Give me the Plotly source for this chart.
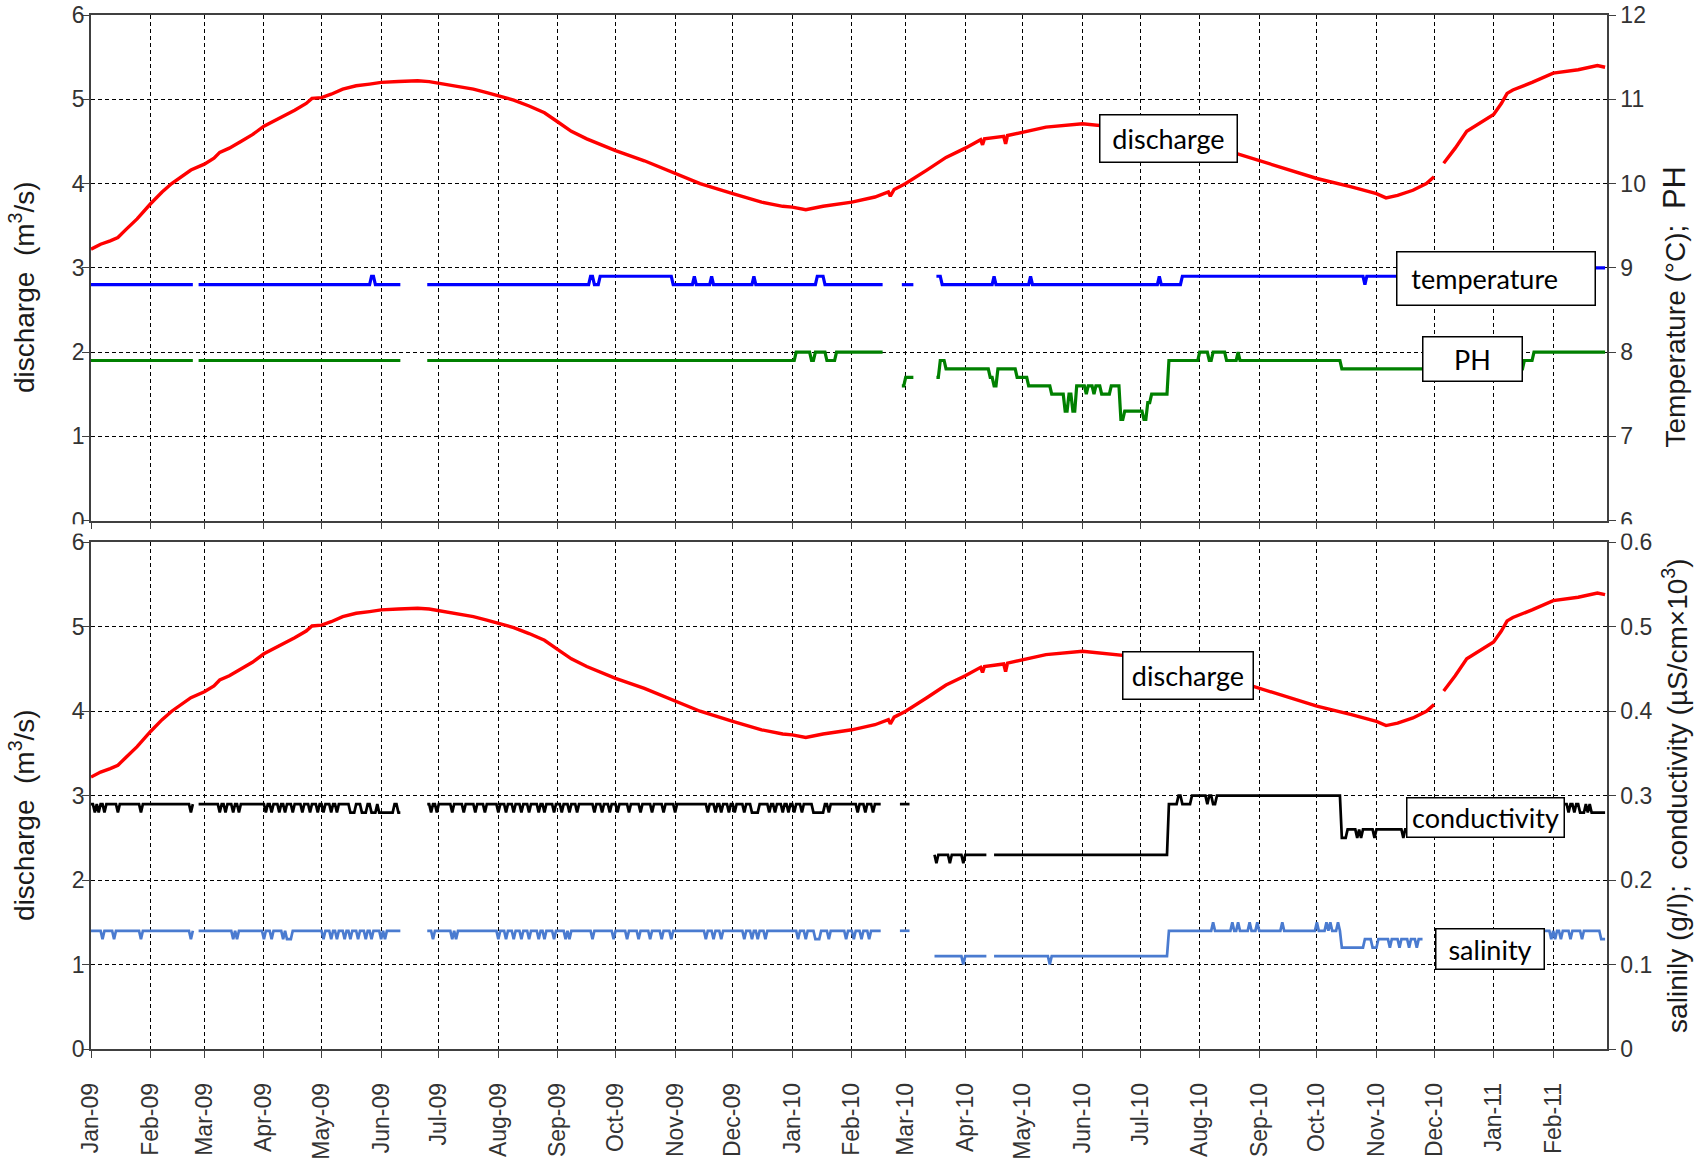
import plotly.graph_objects as go
from datetime import date, timedelta

AXIS_FONT = "Liberation Sans, Arial, sans-serif"
LABEL_FONT = "Lato, Carlito, Calibri, sans-serif"

# Daily discharge (m3/s), sampled readings; None marks the logger outage
discharge = [
    ("2009-01-01", 3.22), ("2009-01-06", 3.28), ("2009-01-11", 3.32), ("2009-01-15", 3.36),
    ("2009-01-19", 3.45), ("2009-01-25", 3.58), ("2009-02-01", 3.76), ("2009-02-07", 3.90),
    ("2009-02-12", 4.00), ("2009-02-17", 4.08), ("2009-02-22", 4.16), ("2009-03-01", 4.23),
    ("2009-03-06", 4.30), ("2009-03-09", 4.37), ("2009-03-14", 4.42), ("2009-03-20", 4.50),
    ("2009-03-26", 4.58), ("2009-04-01", 4.68), ("2009-04-07", 4.75), ("2009-04-11", 4.80),
    ("2009-04-17", 4.87), ("2009-04-23", 4.95), ("2009-04-26", 5.01), ("2009-05-01", 5.02),
    ("2009-05-06", 5.06), ("2009-05-12", 5.12), ("2009-05-19", 5.16), ("2009-05-26", 5.18),
    ("2009-06-01", 5.20), ("2009-06-10", 5.21), ("2009-06-20", 5.22), ("2009-06-26", 5.21),
    ("2009-07-01", 5.19), ("2009-07-10", 5.15), ("2009-07-19", 5.12), ("2009-07-26", 5.08),
    ("2009-08-01", 5.04), ("2009-08-09", 4.99), ("2009-08-17", 4.92), ("2009-08-25", 4.84),
    ("2009-09-01", 4.73), ("2009-09-08", 4.62), ("2009-09-16", 4.53), ("2009-09-23", 4.46),
    ("2009-10-01", 4.39), ("2009-10-16", 4.27), ("2009-11-01", 4.12), ("2009-11-14", 4.00),
    ("2009-12-01", 3.88), ("2009-12-16", 3.78), ("2009-12-27", 3.73), ("2010-01-01", 3.72),
    ("2010-01-08", 3.69), ("2010-01-17", 3.73), ("2010-02-01", 3.78), ("2010-02-13", 3.84),
    ("2010-02-20", 3.90), ("2010-02-21", 3.85), ("2010-02-23", 3.93), ("2010-03-01", 4.00),
    ("2010-03-12", 4.16), ("2010-03-22", 4.31), ("2010-04-01", 4.42), ("2010-04-09", 4.52),
    ("2010-04-10", 4.46), ("2010-04-11", 4.53), ("2010-04-21", 4.56), ("2010-04-22", 4.47),
    ("2010-04-23", 4.57), ("2010-05-01", 4.61), ("2010-05-13", 4.67), ("2010-06-01", 4.71),
    ("2010-06-10", 4.69), ("2010-06-21", 4.67), ("2010-07-01", 4.64), ("2010-07-15", 4.58),
    ("2010-08-01", 4.49), ("2010-08-14", 4.40), ("2010-08-21", 4.35), ("2010-09-01", 4.27),
    ("2010-09-13", 4.18), ("2010-10-01", 4.06), ("2010-10-19", 3.96), ("2010-11-01", 3.88),
    ("2010-11-06", 3.83), ("2010-11-12", 3.86), ("2010-11-20", 3.92), ("2010-11-27", 4.00),
    ("2010-12-01", 4.08), ("2010-12-02", None), ("2010-12-06", 4.24), ("2010-12-12", 4.42),
    ("2010-12-18", 4.62), ("2010-12-26", 4.73), ("2011-01-01", 4.82), ("2011-01-05", 4.95),
    ("2011-01-08", 5.07), ("2011-01-11", 5.11), ("2011-01-21", 5.20), ("2011-02-01", 5.31),
    ("2011-02-14", 5.35), ("2011-02-24", 5.40), ("2011-02-28", 5.38),
]

# Logged readings as (date from which the value holds, value); None = no data
temperature = [
    ("2009-01-01", 8.8), ("2009-02-24", None), ("2009-02-26", 8.8), ("2009-05-27", 8.9),
    ("2009-05-29", 8.8), ("2009-06-12", None), ("2009-06-25", 8.8), ("2009-09-18", 8.9),
    ("2009-09-20", 8.8), ("2009-09-23", 8.9), ("2009-10-31", 8.8), ("2009-11-11", 8.9),
    ("2009-11-12", 8.8), ("2009-11-20", 8.9), ("2009-11-21", 8.8), ("2009-12-12", 8.9),
    ("2009-12-13", 8.8), ("2010-01-14", 8.9), ("2010-01-18", 8.8), ("2010-02-18", None),
    ("2010-02-27", 8.8), ("2010-03-06", None), ("2010-03-17", 8.9), ("2010-03-20", 8.8),
    ("2010-04-16", 8.9), ("2010-04-17", 8.8), ("2010-05-05", 8.9), ("2010-05-06", 8.8),
    ("2010-07-11", 8.9), ("2010-07-12", 8.8), ("2010-07-23", 8.9), ("2010-10-26", 8.8),
    ("2010-10-27", 8.9), ("2011-01-31", 9.0), ("2011-02-28", 9.0),
]

ph = [
    ("2009-01-01", 7.9), ("2009-02-24", None), ("2009-02-26", 7.9), ("2009-06-12", None),
    ("2009-06-25", 7.9), ("2010-01-03", 8.0), ("2010-01-11", 7.9), ("2010-01-13", 8.0),
    ("2010-01-19", 7.9), ("2010-01-24", 8.0), ("2010-02-18", None), ("2010-02-27", 7.6),
    ("2010-03-01", 7.7), ("2010-03-06", None), ("2010-03-17", 7.7), ("2010-03-19", 7.9),
    ("2010-03-22", 7.8), ("2010-04-14", 7.7), ("2010-04-16", 7.6), ("2010-04-18", 7.8),
    ("2010-04-28", 7.7), ("2010-05-04", 7.6), ("2010-05-16", 7.5), ("2010-05-23", 7.3),
    ("2010-05-25", 7.5), ("2010-05-27", 7.3), ("2010-05-29", 7.6), ("2010-06-03", 7.5),
    ("2010-06-04", 7.6), ("2010-06-07", 7.5), ("2010-06-08", 7.6), ("2010-06-11", 7.5),
    ("2010-06-16", 7.6), ("2010-06-21", 7.2), ("2010-06-23", 7.3), ("2010-07-03", 7.2),
    ("2010-07-05", 7.4), ("2010-07-07", 7.5), ("2010-07-16", 7.9), ("2010-08-01", 8.0),
    ("2010-08-06", 7.9), ("2010-08-08", 8.0), ("2010-08-15", 7.9), ("2010-08-21", 8.0),
    ("2010-08-22", 7.9), ("2010-10-14", 7.8), ("2011-01-17", 7.9), ("2011-01-22", 8.0),
    ("2011-02-28", 8.0),
]

conductivity = [
    ("2009-01-01", 0.29), ("2009-01-03", 0.28), ("2009-01-04", 0.29), ("2009-01-05", 0.28),
    ("2009-01-06", 0.29), ("2009-01-08", 0.28), ("2009-01-09", 0.29), ("2009-01-15", 0.28),
    ("2009-01-16", 0.29), ("2009-01-27", 0.28), ("2009-01-28", 0.29), ("2009-02-22", 0.28),
    ("2009-02-23", 0.29), ("2009-02-24", None), ("2009-02-26", 0.29), ("2009-03-09", 0.28),
    ("2009-03-10", 0.29), ("2009-03-12", 0.28), ("2009-03-13", 0.29), ("2009-03-16", 0.28),
    ("2009-03-17", 0.29), ("2009-03-19", 0.28), ("2009-03-20", 0.29), ("2009-04-02", 0.28),
    ("2009-04-03", 0.29), ("2009-04-05", 0.28), ("2009-04-06", 0.29), ("2009-04-09", 0.28),
    ("2009-04-10", 0.29), ("2009-04-12", 0.28), ("2009-04-13", 0.29), ("2009-04-16", 0.28),
    ("2009-04-17", 0.29), ("2009-04-21", 0.28), ("2009-04-22", 0.29), ("2009-04-25", 0.28),
    ("2009-04-26", 0.29), ("2009-04-29", 0.28), ("2009-04-30", 0.29), ("2009-05-02", 0.28),
    ("2009-05-03", 0.29), ("2009-05-06", 0.28), ("2009-05-07", 0.29), ("2009-05-09", 0.28),
    ("2009-05-10", 0.29), ("2009-05-16", 0.28), ("2009-05-19", 0.29), ("2009-05-22", 0.28),
    ("2009-05-25", 0.29), ("2009-05-27", 0.28), ("2009-05-30", 0.29), ("2009-05-31", 0.28),
    ("2009-06-08", 0.29), ("2009-06-10", 0.28), ("2009-06-12", None), ("2009-06-25", 0.29),
    ("2009-06-27", 0.28), ("2009-06-28", 0.29), ("2009-06-30", 0.28), ("2009-07-01", 0.29),
    ("2009-07-08", 0.28), ("2009-07-09", 0.29), ("2009-07-14", 0.28), ("2009-07-15", 0.29),
    ("2009-07-20", 0.28), ("2009-07-21", 0.29), ("2009-07-25", 0.28), ("2009-07-26", 0.29),
    ("2009-08-01", 0.28), ("2009-08-02", 0.29), ("2009-08-05", 0.28), ("2009-08-06", 0.29),
    ("2009-08-09", 0.28), ("2009-08-10", 0.29), ("2009-08-13", 0.28), ("2009-08-14", 0.29),
    ("2009-08-17", 0.28), ("2009-08-18", 0.29), ("2009-08-22", 0.28), ("2009-08-23", 0.29),
    ("2009-08-25", 0.28), ("2009-08-26", 0.29), ("2009-08-30", 0.28), ("2009-08-31", 0.29),
    ("2009-09-03", 0.28), ("2009-09-04", 0.29), ("2009-09-07", 0.28), ("2009-09-08", 0.29),
    ("2009-09-11", 0.28), ("2009-09-12", 0.29), ("2009-09-20", 0.28), ("2009-09-21", 0.29),
    ("2009-09-24", 0.28), ("2009-09-25", 0.29), ("2009-09-28", 0.28), ("2009-09-29", 0.29),
    ("2009-10-02", 0.28), ("2009-10-03", 0.29), ("2009-10-08", 0.28), ("2009-10-09", 0.29),
    ("2009-10-14", 0.28), ("2009-10-15", 0.29), ("2009-10-20", 0.28), ("2009-10-21", 0.29),
    ("2009-10-26", 0.28), ("2009-10-27", 0.29), ("2009-11-01", 0.28), ("2009-11-02", 0.29),
    ("2009-11-18", 0.28), ("2009-11-19", 0.29), ("2009-11-22", 0.28), ("2009-11-23", 0.29),
    ("2009-11-25", 0.28), ("2009-11-26", 0.29), ("2009-11-29", 0.28), ("2009-11-30", 0.29),
    ("2009-12-02", 0.28), ("2009-12-03", 0.29), ("2009-12-07", 0.28), ("2009-12-08", 0.29),
    ("2009-12-11", 0.28), ("2009-12-15", 0.29), ("2009-12-20", 0.28), ("2009-12-21", 0.29),
    ("2009-12-23", 0.28), ("2009-12-24", 0.29), ("2009-12-27", 0.28), ("2009-12-28", 0.29),
    ("2009-12-30", 0.28), ("2009-12-31", 0.29), ("2010-01-02", 0.28), ("2010-01-03", 0.29),
    ("2010-01-06", 0.28), ("2010-01-07", 0.29), ("2010-01-12", 0.28), ("2010-01-18", 0.29),
    ("2010-01-20", 0.28), ("2010-01-21", 0.29), ("2010-02-04", 0.28), ("2010-02-05", 0.29),
    ("2010-02-08", 0.28), ("2010-02-09", 0.29), ("2010-02-12", 0.28), ("2010-02-13", 0.29),
    ("2010-02-17", None), ("2010-02-26", 0.29), ("2010-03-04", None), ("2010-03-16", 0.23),
    ("2010-03-17", 0.22), ("2010-03-18", 0.23), ("2010-03-24", 0.22), ("2010-03-25", 0.23),
    ("2010-03-31", 0.22), ("2010-04-01", 0.23), ("2010-04-13", None), ("2010-04-16", 0.23),
    ("2010-07-16", 0.29), ("2010-07-21", 0.30), ("2010-07-23", 0.29), ("2010-07-28", 0.30),
    ("2010-08-05", 0.29), ("2010-08-06", 0.30), ("2010-08-08", 0.29), ("2010-08-10", 0.30),
    ("2010-10-14", 0.25), ("2010-10-17", 0.26), ("2010-10-22", 0.25), ("2010-10-23", 0.26),
    ("2010-10-24", 0.25), ("2010-10-25", 0.26), ("2010-10-31", 0.25), ("2010-11-01", 0.26),
    ("2010-11-15", 0.25), ("2010-11-16", 0.26), ("2010-11-25", None), ("2010-12-06", 0.29),
    ("2011-02-09", 0.28), ("2011-02-10", 0.29), ("2011-02-12", 0.28), ("2011-02-13", 0.29),
    ("2011-02-15", 0.28), ("2011-02-18", 0.29), ("2011-02-19", 0.28), ("2011-02-20", 0.29),
    ("2011-02-21", 0.28), ("2011-02-28", 0.28),
]

salinity = [
    ("2009-01-01", 0.14), ("2009-01-07", 0.13), ("2009-01-08", 0.14), ("2009-01-13", 0.13),
    ("2009-01-14", 0.14), ("2009-01-27", 0.13), ("2009-01-28", 0.14), ("2009-02-22", 0.13),
    ("2009-02-23", 0.14), ("2009-02-24", None), ("2009-02-26", 0.14), ("2009-03-16", 0.13),
    ("2009-03-17", 0.14), ("2009-03-18", 0.13), ("2009-03-19", 0.14), ("2009-04-01", 0.13),
    ("2009-04-02", 0.14), ("2009-04-05", 0.13), ("2009-04-06", 0.14), ("2009-04-11", 0.13),
    ("2009-04-12", 0.14), ("2009-04-13", 0.13), ("2009-04-16", 0.14), ("2009-05-02", 0.13),
    ("2009-05-03", 0.14), ("2009-05-06", 0.13), ("2009-05-07", 0.14), ("2009-05-09", 0.13),
    ("2009-05-10", 0.14), ("2009-05-13", 0.13), ("2009-05-14", 0.14), ("2009-05-16", 0.13),
    ("2009-05-17", 0.14), ("2009-05-20", 0.13), ("2009-05-21", 0.14), ("2009-05-24", 0.13),
    ("2009-05-25", 0.14), ("2009-05-27", 0.13), ("2009-05-28", 0.14), ("2009-06-01", 0.13),
    ("2009-06-02", 0.14), ("2009-06-03", 0.13), ("2009-06-04", 0.14), ("2009-06-12", None),
    ("2009-06-25", 0.14), ("2009-06-28", 0.13), ("2009-06-29", 0.14), ("2009-07-08", 0.13),
    ("2009-07-09", 0.14), ("2009-07-10", 0.13), ("2009-07-11", 0.14), ("2009-08-01", 0.13),
    ("2009-08-02", 0.14), ("2009-08-05", 0.13), ("2009-08-06", 0.14), ("2009-08-09", 0.13),
    ("2009-08-10", 0.14), ("2009-08-13", 0.13), ("2009-08-14", 0.14), ("2009-08-17", 0.13),
    ("2009-08-18", 0.14), ("2009-08-22", 0.13), ("2009-08-23", 0.14), ("2009-08-25", 0.13),
    ("2009-08-26", 0.14), ("2009-08-30", 0.13), ("2009-08-31", 0.14), ("2009-09-05", 0.13),
    ("2009-09-06", 0.14), ("2009-09-07", 0.13), ("2009-09-08", 0.14), ("2009-09-19", 0.13),
    ("2009-09-20", 0.14), ("2009-09-30", 0.13), ("2009-10-01", 0.14), ("2009-10-07", 0.13),
    ("2009-10-08", 0.14), ("2009-10-13", 0.13), ("2009-10-14", 0.14), ("2009-10-19", 0.13),
    ("2009-10-20", 0.14), ("2009-10-25", 0.13), ("2009-10-26", 0.14), ("2009-10-30", 0.13),
    ("2009-10-31", 0.14), ("2009-11-17", 0.13), ("2009-11-18", 0.14), ("2009-11-21", 0.13),
    ("2009-11-22", 0.14), ("2009-11-25", 0.13), ("2009-11-26", 0.14), ("2009-12-07", 0.13),
    ("2009-12-08", 0.14), ("2009-12-11", 0.13), ("2009-12-12", 0.14), ("2009-12-14", 0.13),
    ("2009-12-15", 0.14), ("2009-12-18", 0.13), ("2009-12-19", 0.14), ("2010-01-04", 0.13),
    ("2010-01-05", 0.14), ("2010-01-08", 0.13), ("2010-01-09", 0.14), ("2010-01-13", 0.13),
    ("2010-01-16", 0.14), ("2010-01-20", 0.13), ("2010-01-21", 0.14), ("2010-01-29", 0.13),
    ("2010-01-30", 0.14), ("2010-02-02", 0.13), ("2010-02-03", 0.14), ("2010-02-06", 0.13),
    ("2010-02-07", 0.14), ("2010-02-10", 0.13), ("2010-02-11", 0.14), ("2010-02-17", None),
    ("2010-02-26", 0.14), ("2010-03-04", None), ("2010-03-16", 0.11), ("2010-03-31", 0.10),
    ("2010-04-01", 0.11), ("2010-04-13", None), ("2010-04-16", 0.11), ("2010-05-15", 0.10),
    ("2010-05-16", 0.11), ("2010-07-16", 0.14), ("2010-08-08", 0.15), ("2010-08-09", 0.14),
    ("2010-08-18", 0.15), ("2010-08-19", 0.14), ("2010-08-21", 0.15), ("2010-08-22", 0.14),
    ("2010-08-27", 0.15), ("2010-08-28", 0.14), ("2010-08-31", 0.15), ("2010-09-01", 0.14),
    ("2010-09-13", 0.15), ("2010-09-14", 0.14), ("2010-10-01", 0.15), ("2010-10-02", 0.14),
    ("2010-10-06", 0.15), ("2010-10-07", 0.14), ("2010-10-08", 0.15), ("2010-10-09", 0.14),
    ("2010-10-12", 0.15), ("2010-10-13", 0.14), ("2010-10-14", 0.12), ("2010-10-26", 0.13),
    ("2010-10-30", 0.12), ("2010-11-02", 0.13), ("2010-11-08", 0.12), ("2010-11-09", 0.13),
    ("2010-11-13", 0.12), ("2010-11-14", 0.13), ("2010-11-18", 0.12), ("2010-11-19", 0.13),
    ("2010-11-22", 0.12), ("2010-11-23", 0.13), ("2010-11-26", None), ("2010-12-06", 0.14),
    ("2011-01-31", 0.13), ("2011-02-01", 0.14), ("2011-02-02", 0.13), ("2011-02-03", 0.14),
    ("2011-02-05", 0.13), ("2011-02-06", 0.14), ("2011-02-10", 0.13), ("2011-02-11", 0.14),
    ("2011-02-16", 0.13), ("2011-02-17", 0.14), ("2011-02-26", 0.13), ("2011-02-28", 0.13),
]

# month ticks along the shared time axis (Jan-09 ... Feb-11)
month_ticks = [
    "2009-01-01", "2009-02-01", "2009-03-01", "2009-04-01", "2009-05-01", "2009-06-01",
    "2009-07-01", "2009-08-01", "2009-09-01", "2009-10-01", "2009-11-01", "2009-12-01",
    "2010-01-01", "2010-02-01", "2010-03-01", "2010-04-01", "2010-05-01", "2010-06-01",
    "2010-07-01", "2010-08-01", "2010-09-01", "2010-10-01", "2010-11-01", "2010-12-01",
    "2011-01-01", "2011-02-01",
]
x_range = ["2009-01-01", "2011-03-01"]


def series_xy(readings):
    return [d for d, _ in readings], [v for _, v in readings]


def logged_xy(readings):
    """Daily logger values: each reading holds until the day before the next one."""
    xs, ys = [], []
    prev = None
    for d, v in readings:
        day = date.fromisoformat(d)
        if prev is not None:
            xs.append(day - timedelta(days=1))
            ys.append(prev)
        xs.append(day)
        ys.append(v)
        prev = v
    return xs, ys


fig = go.Figure()

qx, qy = series_xy(discharge)
tx, ty = logged_xy(temperature)
px_, py_ = logged_xy(ph)
cx, cy = logged_xy(conductivity)
sx, sy = logged_xy(salinity)

fig.add_trace(go.Scatter(x=tx, y=ty, xaxis="x", yaxis="y2", mode="lines",
                         line=dict(color="#0000FF", width=3.2), name="temperature"))
fig.add_trace(go.Scatter(x=px_, y=py_, xaxis="x", yaxis="y2", mode="lines",
                         line=dict(color="#008000", width=3.2), name="PH"))
fig.add_trace(go.Scatter(x=qx, y=qy, xaxis="x", yaxis="y", mode="lines",
                         line=dict(color="#FF0000", width=3.4), name="discharge"))

fig.add_trace(go.Scatter(x=cx, y=cy, xaxis="x2", yaxis="y4", mode="lines",
                         line=dict(color="#000000", width=2.7), name="conductivity"))
fig.add_trace(go.Scatter(x=sx, y=sy, xaxis="x2", yaxis="y4", mode="lines",
                         line=dict(color="#4A7BD0", width=2.7), name="salinity"))
fig.add_trace(go.Scatter(x=qx, y=qy, xaxis="x2", yaxis="y3", mode="lines",
                         line=dict(color="#FF0000", width=3.4), name="discharge"))

tick_font = dict(family=AXIS_FONT, size=23, color="#333333")
title_font = dict(family=AXIS_FONT, size=28, color="#1a1a1a")
frame = dict(showline=True, linecolor="#404040", linewidth=1.5, ticks="outside",
             ticklen=7, tickcolor="#404040", tickwidth=1.3, zeroline=False, automargin=False)
grid = dict(showgrid=True, gridcolor="#000000", gridwidth=1.2, griddash="4px,3px")

x_common = dict(type="date", range=x_range, tickmode="array", tickvals=month_ticks,
                mirror=True, **frame, **grid)

NB = "\u00a0"
END = "\u200b"  # keeps the trailing padding from being trimmed

fig.update_layout(
    width=1704, height=1165,
    margin=dict(l=91, r=97, t=15, b=116, autoexpand=False),
    paper_bgcolor="white", plot_bgcolor="white",
    showlegend=False,
    xaxis=dict(anchor="y", domain=[0, 1], showticklabels=False, **x_common),
    xaxis2=dict(anchor="y3", domain=[0, 1], tickformat="%b-%y", tickangle=-90,
                tickfont=tick_font, ticklabelstandoff=16, **x_common),
    yaxis=dict(domain=[0.511, 1.0], anchor="x", range=[0, 6], dtick=1,
               tickfont=tick_font, ticklabelstandoff=-7, **frame, **grid,
               title=dict(text="discharge" + NB * 2 + "(m<sup>3</sup>/s)" + NB * 5 + END,
                          font=title_font, standoff=29)),
    yaxis2=dict(overlaying="y", anchor="x", side="right", range=[6, 12], dtick=1,
                showgrid=False, tickfont=tick_font, **frame,
                title=dict(text="Temperature (°C);" + NB * 2
                           + "<span style='font-size:31px'>PH</span>" + NB * 10 + END,
                           font=title_font, standoff=20)),
    yaxis3=dict(domain=[0.0, 0.49], anchor="x2", range=[0, 6], dtick=1,
                tickfont=tick_font, ticklabelstandoff=-7, **frame, **grid,
                title=dict(text="discharge" + NB * 2 + "(m<sup>3</sup>/s)" + NB * 5 + END,
                           font=title_font, standoff=29)),
    yaxis4=dict(overlaying="y3", anchor="x2", side="right", range=[0, 0.6], dtick=0.1,
                showgrid=False, tickfont=tick_font, **frame,
                title=dict(text="salinily (g/l);" + NB * 2 + "conductivity (µS/cm×10<sup>3</sup>)",
                           font=title_font, standoff=16)),
)

# the lower panel overlaps the bottom tick labels of the upper panel
for x0, x1 in ((-0.06, -0.0015), (1.0025, 1.07)):
    fig.add_shape(type="rect", xref="paper", yref="paper", x0=x0, x1=x1,
                  y0=0.4985, y1=0.5075, fillcolor="white", line=dict(width=0), layer="above")

box = dict(showarrow=False, bgcolor="white", bordercolor="black", borderwidth=1.5,
           borderpad=0, font=dict(family=LABEL_FONT, size=27, color="black"))

labels = [
    dict(text="discharge", x="2010-07-16", y=4.54, xref="x", yref="y", width=136, height=46),
    dict(text=NB * 2 + "temperature", x="2011-01-02", y=8.87, xref="x", yref="y2",
         width=197, height=52, align="left"),
    dict(text="PH", x="2010-12-21", y=7.92, xref="x", yref="y2", width=98, height=43),
    dict(text="discharge", x="2010-07-26", y=4.42, xref="x2", yref="y3", width=129, height=46),
    dict(text="conductivity", x="2010-12-28", y=0.2745, xref="x2", yref="y4", width=156, height=38),
    dict(text="salinity", x="2010-12-30", y=0.118, xref="x2", yref="y4", width=107, height=39),
]
for lab in labels:
    fig.add_annotation(**box, **lab)

fig.write_html("out.html")
